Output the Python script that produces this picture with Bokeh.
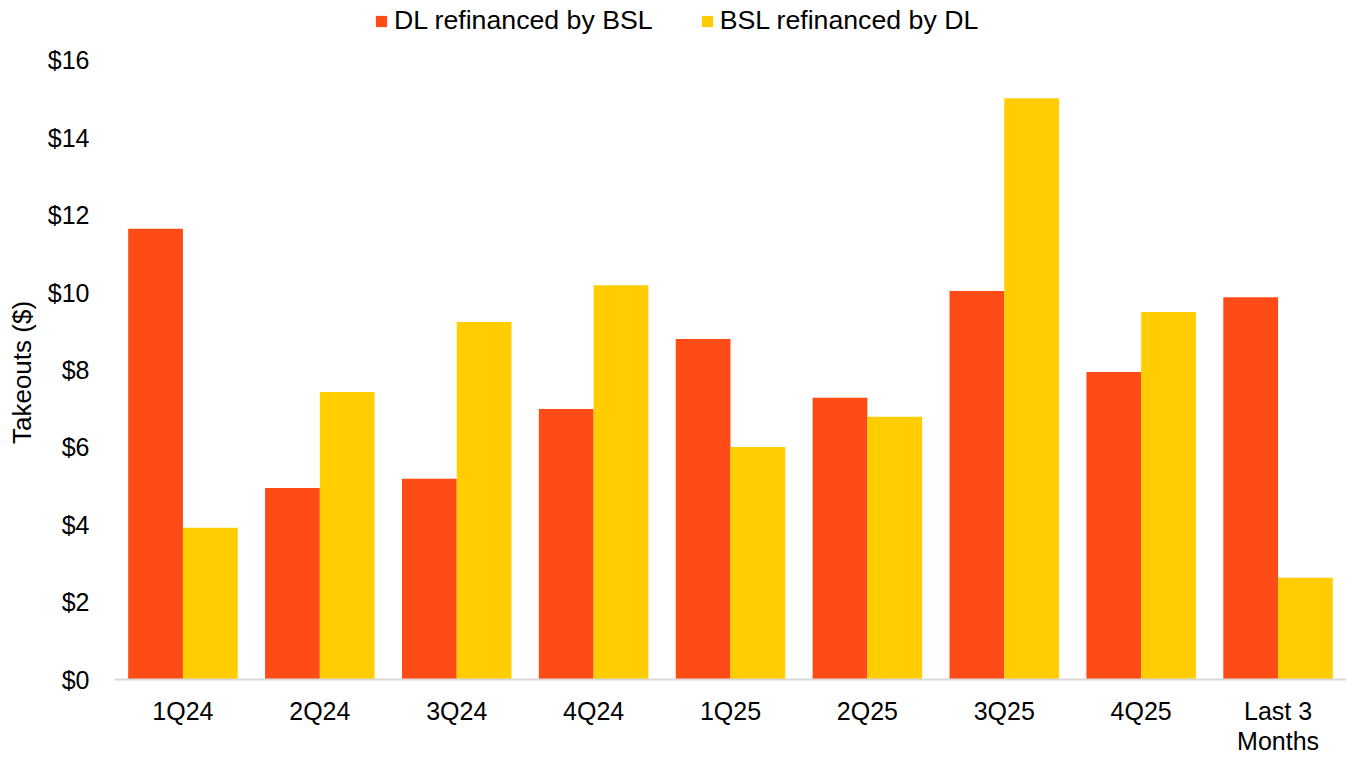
from bokeh.plotting import figure
from bokeh.models import ColumnDataSource, FactorRange, Legend, LegendItem, NumeralTickFormatter
from bokeh.transform import dodge
from bokeh.embed import file_html
from bokeh.resources import INLINE

# Quarterly takeout volumes
categories = ["1Q24", "2Q24", "3Q24", "4Q24", "1Q25", "2Q25", "3Q25", "4Q25", "Last 3\nMonths"]
dl_refinanced_by_bsl = [11.65, 4.95, 5.19, 6.99, 8.80, 7.28, 10.04, 7.95, 9.88]
bsl_refinanced_by_dl = [3.92, 7.43, 9.24, 10.19, 6.01, 6.79, 15.02, 9.50, 2.63]
y_ticks = [0, 2, 4, 6, 8, 10, 12, 14, 16]

RED = "#FF4B15"
YELLOW = "#FFCD00"
FONT = "Liberation Sans"

source = ColumnDataSource(dict(cat=categories, dl=dl_refinanced_by_bsl, bsl=bsl_refinanced_by_dl))

# Frame spans the full height above the baseline; the top strip holds the legend
FRAME_BOTTOM = 680
Y_TOP = 16 * FRAME_BOTTOM / 620

p = figure(
    width=1346, height=758,
    x_range=FactorRange(*categories, range_padding=0),
    y_range=(0, Y_TOP),
    output_backend="svg", toolbar_location=None,
    min_border_left=114, min_border_right=0, min_border_top=0, min_border_bottom=758 - FRAME_BOTTOM,
)
p.outline_line_color = None
p.background_fill_color = "white"
p.border_fill_color = "white"
p.xgrid.visible = False
p.ygrid.visible = False

r_dl = p.vbar(x=dodge("cat", -0.2, range=p.x_range), top="dl", width=0.4, source=source,
              fill_color=RED, line_color=None)
r_bsl = p.vbar(x=dodge("cat", 0.2, range=p.x_range), top="bsl", width=0.4, source=source,
               fill_color=YELLOW, line_color=None)

# y axis: dollar labels, no line or ticks
p.yaxis.ticker = y_ticks
p.yaxis.formatter = NumeralTickFormatter(format="$0")
p.yaxis.axis_line_color = None
p.yaxis.major_tick_line_color = None
p.yaxis.minor_tick_line_color = None
p.yaxis.major_label_standoff = 19
p.yaxis.major_label_text_font = FONT
p.yaxis.major_label_text_font_size = "25px"
p.yaxis.major_label_text_color = "black"
# trailing no-break spaces keep the title centred on the $0-$16 span
p.yaxis.axis_label = "Takeouts ($)" + "\u00a0" * 9
p.yaxis.axis_label_text_font = FONT
p.yaxis.axis_label_text_font_size = "26px"
p.yaxis.axis_label_text_font_style = "normal"
p.yaxis.axis_label_text_color = "black"
p.yaxis.axis_label_standoff = 8

# x axis: light baseline only
p.xaxis.axis_line_color = "#D9D9D9"
p.xaxis.axis_line_width = 2
p.xaxis.major_tick_line_color = None
p.xaxis.minor_tick_line_color = None
p.xaxis.major_label_standoff = 11
p.xaxis.major_label_text_font = FONT
p.xaxis.major_label_text_font_size = "25px"
p.xaxis.major_label_text_line_height = 1.1
p.xaxis.major_label_text_color = "black"

legend = Legend(
    items=[LegendItem(label="DL refinanced by BSL", renderers=[r_dl]),
           LegendItem(label="BSL refinanced by DL", renderers=[r_bsl])],
    orientation="horizontal",
    location=(260, 643),
    padding=0, margin=0, spacing=47,
    glyph_width=14, glyph_height=14, label_standoff=6,
    label_text_font=FONT, label_text_font_size="26.7px", label_text_color="black",
    border_line_color=None, background_fill_alpha=0,
)
p.add_layout(legend, "center")

open("out.html", "w").write(file_html(p, INLINE))
